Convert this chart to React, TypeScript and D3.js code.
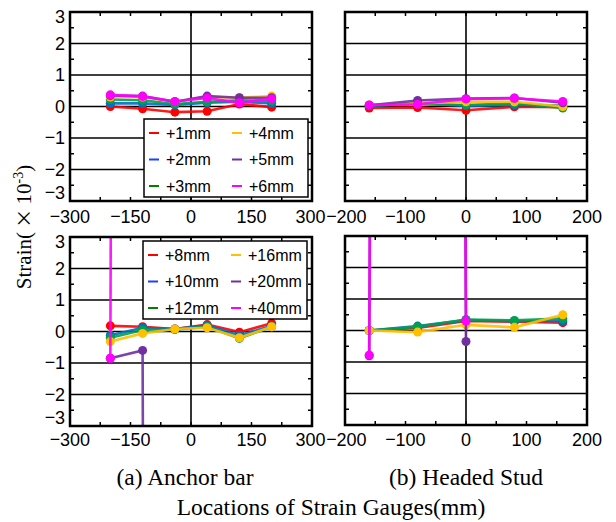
import React, { useEffect, useRef } from 'react';
import * as d3 from 'd3';

// series colours (line / legend sample)
const lineColors = ['#ff0000', '#0070c0', '#00a050', '#ffc000', '#7030a0', '#ff00ff'];
const legendColors = ['#ff0000', '#1f3fff', '#008000', '#ffc000', '#7030a0', '#ff00ff'];

const topLabels = ['+1mm', '+2mm', '+3mm', '+4mm', '+5mm', '+6mm'];
const bottomLabels = ['+8mm', '+10mm', '+12mm', '+16mm', '+20mm', '+40mm'];

// gauge locations (mm)
const anchorX = [-200, -120, -40, 40, 120, 200];
const studX = [-160, -80, 0, 80, 160];

const anchorTicks = [-300, -150, 0, 150, 300];
const studTicks = [-200, -100, 0, 100, 200];
const strainTicks = [3, 2, 1, 0, -1, -2, -3];

// strain (x10^-3), one row per series; NaN = gauge lost
const anchorTop = [
  [0.0, -0.07, -0.18, -0.15, 0.08, -0.02],
  [0.1, 0.1, 0.05, 0.12, 0.15, 0.1],
  [0.22, 0.2, 0.08, 0.15, 0.2, 0.18],
  [0.3, 0.3, 0.15, 0.3, 0.28, 0.33],
  [0.35, 0.33, 0.15, 0.33, 0.28, 0.28],
  [0.37, 0.32, 0.16, 0.27, 0.12, 0.25],
];
const studTop = [
  [-0.05, -0.03, -0.12, -0.01, -0.02],
  [0.02, 0.1, 0.02, 0.05, 0.03],
  [0.03, 0.08, 0.05, 0.1, -0.05],
  [0.05, 0.1, 0.15, 0.15, 0.0],
  [0.04, 0.19, 0.25, 0.27, 0.12],
  [0.05, 0.07, 0.24, 0.26, 0.16],
];
const anchorBottom = [
  [0.18, 0.15, 0.08, 0.22, -0.02, 0.26],
  [-0.12, 0.12, 0.08, 0.2, -0.12, 0.18],
  [-0.2, 0.05, 0.06, 0.15, -0.22, 0.15],
  [-0.32, -0.06, 0.08, 0.12, -0.2, 0.15],
  [-0.85, -0.6, -300, NaN, NaN, NaN],
  [-0.85, 300, NaN, NaN, NaN, NaN],
];
const studBottom = [
  [0.0, 0.08, 0.3, 0.28, 0.25],
  [0.0, 0.14, 0.33, 0.3, 0.3],
  [0.0, 0.12, 0.35, 0.32, 0.38],
  [0.0, -0.05, 0.18, 0.1, 0.5],
  [-0.8, 300, -0.35, NaN, NaN],
  [-0.78, 300, 0.3, NaN, NaN],
];

const tickFont = '"Liberation Sans", Arial, sans-serif';
const serifFont = '"Liberation Serif", "Times New Roman", serif';

const App = () => {
  const svgRef = useRef(null);

  useEffect(() => {
    const svg = d3.select(svgRef.current);
    svg.selectAll('*').remove();

    const panels = [
      { id: 'a1', xs: anchorX, values: anchorTop, domain: [-300, 300], ticks: anchorTicks, minor: 75, left: 70, right: 312, top: 12, bottom: 201, yLabels: true, labelY: 223, legend: topLabels, lx: 144, ly: 119 },
      { id: 'b1', xs: studX, values: studTop, domain: [-200, 200], ticks: studTicks, minor: 50, left: 345, right: 587, top: 12, bottom: 201, yLabels: false, labelY: 223 },
      { id: 'a2', xs: anchorX, values: anchorBottom, domain: [-300, 300], ticks: anchorTicks, minor: 75, left: 70, right: 312, top: 237, bottom: 426, yLabels: true, labelY: 446, legend: bottomLabels, lx: 143, ly: 241 },
      { id: 'b2', xs: studX, values: studBottom, domain: [-200, 200], ticks: studTicks, minor: 50, left: 345, right: 587, top: 236, bottom: 425, yLabels: false, labelY: 446 },
    ];

    // number with a wide minus sign
    const numText = (sel, v) => {
      if (v < 0) sel.append('tspan').style('font-family', '"Noto Sans CJK JP"').text('−');
      sel.append('tspan').text(Math.abs(v));
    };

    panels.forEach(p => {
      const x = d3.scaleLinear().domain(p.domain).range([p.left, p.right]);
      const y = d3.scaleLinear().domain([-3, 3]).range([p.bottom, p.top]);
      const g = svg.append('g');

      g.append('clipPath').attr('id', `clip-${p.id}`)
        .append('rect')
        .attr('x', p.left).attr('y', p.top)
        .attr('width', p.right - p.left).attr('height', p.bottom - p.top);

      // grid
      g.selectAll('.hgrid')
        .data(d3.range(-2, 3))
        .enter()
        .append('line')
        .attr('x1', p.left).attr('x2', p.right)
        .attr('y1', d => y(d)).attr('y2', d => y(d))
        .attr('stroke', 'black').attr('stroke-width', 1.6);
      g.append('line')
        .attr('x1', x(0)).attr('x2', x(0))
        .attr('y1', p.top).attr('y2', p.bottom)
        .attr('stroke', 'black').attr('stroke-width', 1.6);

      // minor ticks, inside the frame
      const xMinor = d3.range(p.domain[0] + p.minor, p.domain[1], p.minor);
      xMinor.forEach(v => {
        g.append('line').attr('x1', x(v)).attr('x2', x(v)).attr('y1', p.top).attr('y2', p.top + 4)
          .attr('stroke', 'black').attr('stroke-width', 1.5);
        g.append('line').attr('x1', x(v)).attr('x2', x(v)).attr('y1', p.bottom).attr('y2', p.bottom - 4)
          .attr('stroke', 'black').attr('stroke-width', 1.5);
      });
      d3.range(-2.5, 3, 1).forEach(v => {
        g.append('line').attr('x1', p.left).attr('x2', p.left + 4).attr('y1', y(v)).attr('y2', y(v))
          .attr('stroke', 'black').attr('stroke-width', 1.5);
        g.append('line').attr('x1', p.right).attr('x2', p.right - 4).attr('y1', y(v)).attr('y2', y(v))
          .attr('stroke', 'black').attr('stroke-width', 1.5);
      });

      // series
      const plot = g.append('g').attr('clip-path', `url(#clip-${p.id})`);
      p.values.forEach((row, i) => {
        const pts = row.map((v, j) => ({ x: p.xs[j], v }));
        const line = d3.line()
          .defined(d => !isNaN(d.v))
          .x(d => x(d.x))
          .y(d => y(d.v));
        plot.append('path')
          .datum(pts)
          .attr('d', line)
          .attr('fill', 'none')
          .attr('stroke', lineColors[i])
          .attr('stroke-width', 2.6)
          .attr('stroke-opacity', 0.9);
        plot.selectAll(`.dot-${i}`)
          .data(pts.filter(d => !isNaN(d.v)))
          .enter()
          .append('circle')
          .attr('cx', d => x(d.x))
          .attr('cy', d => y(d.v))
          .attr('r', 4.5)
          .attr('fill', lineColors[i]);
      });

      // frame
      g.append('rect')
        .attr('x', p.left).attr('y', p.top)
        .attr('width', p.right - p.left).attr('height', p.bottom - p.top)
        .attr('fill', 'none').attr('stroke', 'black').attr('stroke-width', 2.5);

      // x tick labels (edge labels nudged apart where two panels meet)
      p.ticks.forEach((t, k) => {
        let dx = 0;
        if (p.yLabels && k === p.ticks.length - 1) dx = -1.5;
        if (!p.yLabels && k === 0) dx = 1.5;
        const txt = g.append('text')
          .attr('x', x(t) + dx).attr('y', p.labelY)
          .attr('text-anchor', 'middle')
          .style('font-family', tickFont).style('font-size', '18px');
        numText(txt, t);
      });

      // y tick labels
      if (p.yLabels) {
        strainTicks.forEach(t => {
          const cy = Math.max(p.top + 5, Math.min(p.bottom - 8, y(t)));
          const txt = g.append('text')
            .attr('x', 65).attr('y', cy).attr('dy', '0.36em')
            .attr('text-anchor', 'end')
            .style('font-family', tickFont).style('font-size', '18px');
          numText(txt, t);
        });
      }

      // legend
      if (p.legend) {
        const lg = g.append('g').attr('transform', `translate(${p.lx},${p.ly})`);
        lg.append('rect')
          .attr('width', 164).attr('height', 78)
          .attr('fill', 'white').attr('stroke', 'black').attr('stroke-width', 1.5);
        p.legend.forEach((name, i) => {
          const col = Math.floor(i / 3);
          const row = i % 3;
          const cx = col * 83;
          const cy = 14 + row * 26.5;
          lg.append('line')
            .attr('x1', cx + 5).attr('x2', cx + 15)
            .attr('y1', cy).attr('y2', cy)
            .attr('stroke', legendColors[i]).attr('stroke-width', 2);
          lg.append('text')
            .attr('x', cx + 22).attr('y', cy).attr('dy', '0.36em')
            .style('font-family', tickFont).style('font-size', '16px')
            .text(name);
        });
      }
    });

    // y axis title
    const yt = svg.append('text')
      .attr('transform', 'translate(31,227) rotate(-90)')
      .attr('text-anchor', 'middle')
      .style('font-family', serifFont).style('font-size', '21px');
    yt.append('tspan').text('Strain(');
    yt.append('tspan').style('font-family', '"Noto Sans CJK JP"').style('font-size', '19px').text(' × ');
    yt.append('tspan').text('10');
    yt.append('tspan').attr('dy', -8).style('font-size', '14px').text('-3');
    yt.append('tspan').attr('dy', 8).text(')');

    // captions
    svg.append('text')
      .attr('x', 185).attr('y', 485)
      .attr('text-anchor', 'middle')
      .style('font-family', serifFont).style('font-size', '23.5px')
      .text('(a) Anchor bar');
    svg.append('text')
      .attr('x', 466).attr('y', 485)
      .attr('text-anchor', 'middle')
      .style('font-family', serifFont).style('font-size', '23.5px')
      .text('(b) Headed Stud');
    svg.append('text')
      .attr('x', 331).attr('y', 515)
      .attr('text-anchor', 'middle')
      .style('font-family', serifFont).style('font-size', '23.5px')
      .text('Locations of Strain Gauges(mm)');
  }, []);

  return (
    <svg ref={svgRef} width={616} height={522}
      style={{ position: 'absolute', left: 0, top: 0, background: 'white' }} />
  );
};

export default App;
